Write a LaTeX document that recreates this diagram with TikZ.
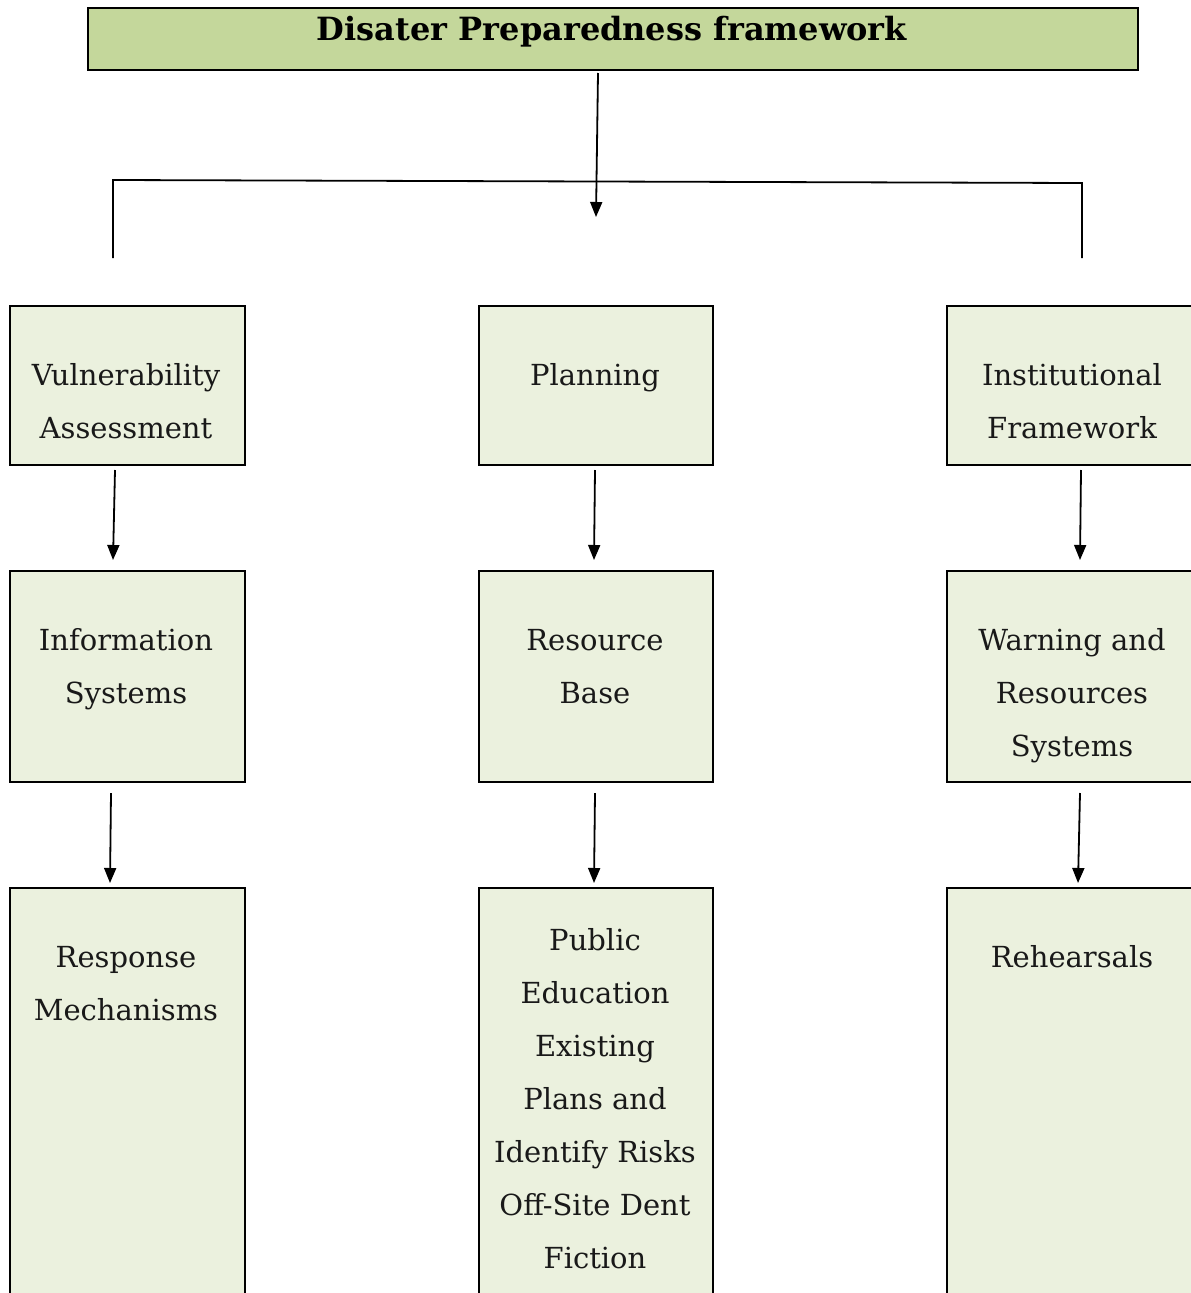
\documentclass[tikz,border=0pt]{standalone}
\usepackage{fontspec}
\setmainfont{DejaVu Serif}
\usetikzlibrary{arrows.meta}
\definecolor{titlefill}{HTML}{C4D79B}
\definecolor{boxfill}{HTML}{EBF1DE}
\tikzset{
  titlebox/.style={draw=black, line width=2.4pt, fill=titlefill, anchor=north west, inner sep=0pt},
  greenbox/.style={draw=black, line width=2.4pt, fill=boxfill, anchor=north west, inner sep=0pt, minimum width=235pt},
  lbl/.style={anchor=north, align=center, inner sep=0pt, font=\fontsize{29}{53}\selectfont, text=black!90},
  conn/.style={line width=1.8pt, black},
  arr/.style={conn, -{Triangle[length=15pt,width=12pt]}}
}
\begin{document}
\begin{tikzpicture}[x=1pt,y=-1pt]
\useasboundingbox (0,0) rectangle (1191,1293);
% title
\node[titlebox, minimum width=1050pt, minimum height=62pt] (title) at (87,7) {};
\node[anchor=base, inner sep=0pt, font=\fontsize{32}{38}\selectfont\bfseries] (titletext) at (612,40) {Disater Preparedness framework};
% boxes row 1
\node[greenbox, minimum height=159pt] (va) at (9,305) {};
\node[greenbox, minimum height=159pt, minimum width=234pt] (pl) at (478,305) {};
\node[greenbox, minimum height=159pt, minimum width=252pt] (inf) at (946,305) {};
% row 2
\node[greenbox, minimum height=211pt] (is) at (9,570) {};
\node[greenbox, minimum height=211pt, minimum width=234pt] (rb) at (478,570) {};
\node[greenbox, minimum height=211pt, minimum width=252pt] (wr) at (946,570) {};
% row 3
\node[greenbox, minimum height=420pt] (rm) at (9,887) {};
\node[greenbox, minimum height=420pt, minimum width=234pt] (pe) at (478,887) {};
\node[greenbox, minimum height=420pt, minimum width=252pt] (rh) at (946,887) {};
% labels
\node[lbl] (vat) at (126,363) {Vulnerability\\Assessment};
\node[lbl] (plt) at (595,363) {Planning};
\node[lbl] (inft) at (1072,363) {Institutional\\Framework};
\node[lbl] (ist) at (126,628) {Information\\Systems};
\node[lbl] (rbt) at (595,629) {Resource\\Base};
\node[lbl] (wrt) at (1072,628) {Warning and\\Resources\\Systems};
\node[lbl] (rmt) at (126,946) {Response\\Mechanisms};
\node[lbl] (pet) at (595,928) {Public\\Education\\Existing\\Plans and\\Identify Risks\\Off-Site Dent\\Fiction};
\node[lbl] (rht) at (1072,945) {Rehearsals};
% tree connectors
\coordinate (tA) at (598,73);
\coordinate (tB) at (596,217);
\coordinate (hL) at (113,180);
\coordinate (hR) at (1082,183);
\coordinate (vL) at (113,258);
\coordinate (vR) at (1082,258);
\draw[arr] (tA) -- (tB);
\draw[conn] (vL) -- (hL) -- (hR) -- (vR);
% column arrows
\coordinate (a1s) at (115,470); \coordinate (a1e) at (113,560);
\coordinate (a2s) at (595,470); \coordinate (a2e) at (594,560);
\coordinate (a3s) at (1081,470); \coordinate (a3e) at (1080,560);
\coordinate (b1s) at (111,793); \coordinate (b1e) at (110,883);
\coordinate (b2s) at (595,793); \coordinate (b2e) at (594,883);
\coordinate (b3s) at (1080,793); \coordinate (b3e) at (1078,883);
\draw[arr] (a1s) -- (a1e);
\draw[arr] (a2s) -- (a2e);
\draw[arr] (a3s) -- (a3e);
\draw[arr] (b1s) -- (b1e);
\draw[arr] (b2s) -- (b2e);
\draw[arr] (b3s) -- (b3e);
\end{tikzpicture}
\end{document}
